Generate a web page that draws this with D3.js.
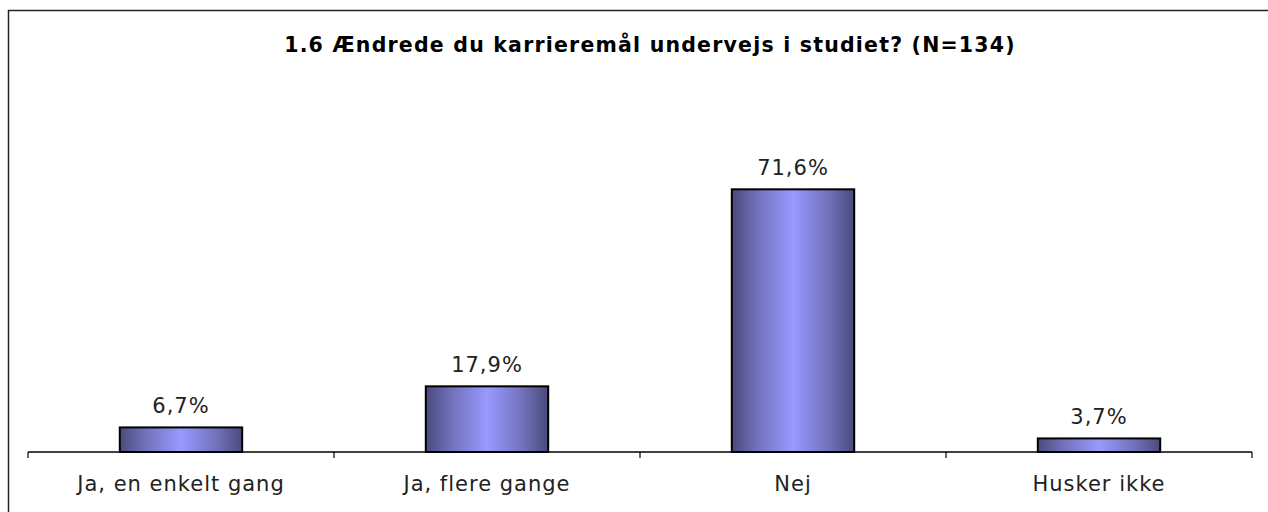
<!DOCTYPE html>
<html><head><meta charset="utf-8">
<script src="https://cdn.jsdelivr.net/npm/d3@7"></script>
<style>body{margin:0;background:#fff}svg{display:block}</style>
</head><body>
<script>
const categories = ["Ja, en enkelt gang", "Ja, flere gange", "Nej", "Husker ikke"];
const values = [6.7, 17.9, 71.6, 3.7];
const valueLabels = ["6,7%", "17,9%", "71,6%", "3,7%"];
const title = "1.6 Ændrede du karrieremål undervejs i studiet? (N=134)";

const W = 1268, H = 512;
const svg = d3.select("body").append("svg").attr("width", W).attr("height", H);

const defs = svg.append("defs");
const g = defs.append("linearGradient").attr("id", "barGrad").attr("x1", "0%").attr("x2", "100%").attr("y1", "0%").attr("y2", "0%");
[[0, "#4a4a7c"], [0.2, "#7070b8"], [0.5, "#9999ff"], [0.8, "#7070b8"], [1, "#4a4a7c"]].forEach(([o, c]) =>
  g.append("stop").attr("offset", o).attr("stop-color", c));

svg.append("rect").attr("x", 8.5).attr("y", 10.5).attr("width", 1300).attr("height", 600)
  .attr("fill", "#fff").attr("stroke", "#222").attr("stroke-width", 1.5);

svg.append("text").attr("x", 650).attr("y", 52).attr("text-anchor", "middle")
  .attr("font-family", "DejaVu Sans, Verdana, sans-serif").attr("font-weight", "bold")
  .attr("font-size", 20.5).attr("letter-spacing", 1.2).attr("fill", "#000").text(title);

const x = d3.scaleBand().domain(categories).range([28, 1252]).paddingInner(0.6).paddingOuter(0.3);
const y = d3.scaleLinear().domain([0, 80]).range([452, 158.5]);

svg.selectAll("rect.bar").data(values).join("rect").attr("class", "bar")
  .attr("x", (d, i) => x(categories[i])).attr("width", x.bandwidth())
  .attr("y", d => y(d)).attr("height", d => y(0) - y(d))
  .attr("fill", "url(#barGrad)").attr("stroke", "#000").attr("stroke-width", 2);

svg.selectAll("text.val").data(values).join("text").attr("class", "val")
  .attr("x", (d, i) => x(categories[i]) + x.bandwidth() / 2).attr("y", d => y(d) - 14)
  .attr("text-anchor", "middle").attr("font-family", "DejaVu Sans, Verdana, sans-serif")
  .attr("font-size", 21).attr("letter-spacing", 1).attr("fill", "#222").text((d, i) => valueLabels[i]);

const xb = d3.scaleBand().domain(categories).range([28, 1252]);
const axis = d3.axisBottom(xb).tickSize(0).tickPadding(0).tickFormat("");
const ax = svg.append("g").attr("transform", "translate(0,452)").call(axis);
ax.select(".domain").attr("stroke", "#000").attr("stroke-width", 1.5).attr("d", "M28,0H1252");
const bounds = [0, 1, 2, 3, 4].map(i => 28 + i * xb.step());
ax.selectAll("line.b").data(bounds).join("line").attr("class", "b")
  .attr("x1", d => d).attr("x2", d => d).attr("y1", 0).attr("y2", 6)
  .attr("stroke", "#000").attr("stroke-width", 1.2);
ax.selectAll("text.cat").data(categories).join("text").attr("class", "cat")
  .attr("x", d => xb(d) + xb.bandwidth() / 2).attr("y", 39)
  .attr("text-anchor", "middle").attr("font-family", "DejaVu Sans, Verdana, sans-serif")
  .attr("font-size", 21).attr("letter-spacing", 1).attr("fill", "#222").text(d => d);
</script>
</body></html>
